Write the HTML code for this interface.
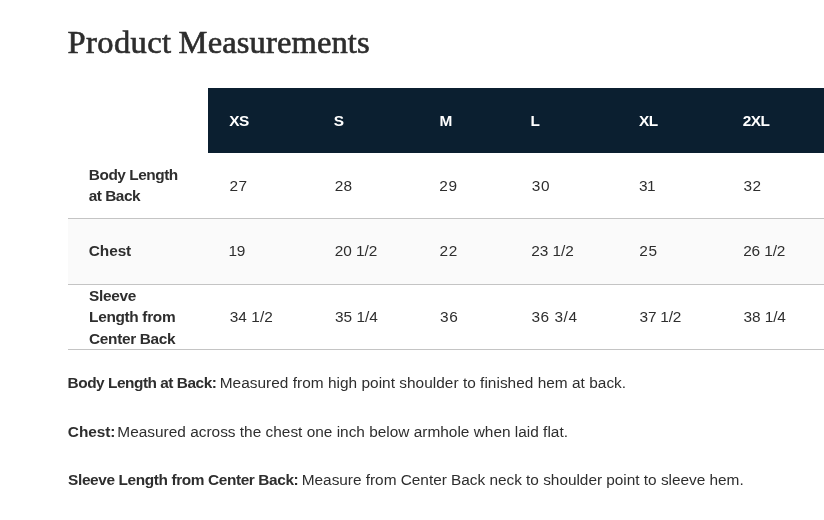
<!DOCTYPE html>
<html lang="en">
<head>
<meta charset="utf-8">
<title>Product Measurements</title>
<style>
  html, body { margin: 0; padding: 0; background: #ffffff; }
  body {
    width: 824px; height: 520px; overflow: hidden; position: relative; display: flow-root;
    font-family: "Liberation Sans", Arial, sans-serif;
    font-size: 15.4px; line-height: 21px; color: #2e2e2e;
  }
  h2 {
    position: absolute; left: 67.6px; top: 22px; margin: 0;
    font-family: "Liberation Serif", "DejaVu Serif", serif;
    font-weight: 400; font-size: 32.5px; line-height: 40px; letter-spacing: 0.14px;
    color: #2d2d2d; -webkit-text-stroke: 0.65px #2d2d2d; white-space: nowrap; word-spacing: -1px;
  }
  h2 .w1 { letter-spacing: 0.38px; }
  table {
    margin: 88px 0 0 68px; width: 860px;
    border-collapse: collapse; table-layout: fixed;
  }
  th, td { padding: 0; text-align: left; font-weight: 400; }
  thead th { height: 65px; background: #0b1f30; color: #ffffff; }
  thead th.blank { background: transparent; }
  tbody tr { border-bottom: 1px solid #c4c4c4; }
  tbody td, tbody th { height: 65px; }
  tbody tr.r3 td, tbody tr.r3 th { height: 64px; }
  tbody tr.alt { background: #fafafa; }
  /* text runs are pinned to measured positions */
  .t { position: absolute; white-space: nowrap; line-height: 21px; }
  .b { font-weight: 700; }
  .hd { top: 110px; }
  .r1 .v { top: 175px; }  .r1 .la { top: 164px; } .r1 .lb { top: 185px; }
  .r2 .v { top: 240px; }  .r2 .la { top: 240px; }
  .r3 .v { top: 306px; }  .r3 .la { top: 285px; } .r3 .lb { top: 306px; } .r3 .lc { top: 328px; }
  p { margin: 0; }
  .p1 .t { top: 372px; } .p2 .t { top: 421px; } .p3 .t { top: 469px; }
</style>
</head>
<body>
<h2><span class="w1">Product</span> Measurements</h2>

<table>
  <colgroup>
    <col style="width:140px"><col style="width:105px"><col style="width:105px">
    <col style="width:91px"><col style="width:109px"><col style="width:103px"><col>
  </colgroup>
  <thead>
    <tr>
      <th class="blank"></th>
      <th><span id="h0" class="t b hd" style="left:229.28px;letter-spacing:-0.60px">XS</span></th>
      <th><span id="h1" class="t b hd" style="left:333.83px;letter-spacing:0.00px">S</span></th>
      <th><span id="h2" class="t b hd" style="left:439.57px;letter-spacing:0.00px">M</span></th>
      <th><span id="h3" class="t b hd" style="left:530.40px;letter-spacing:0.00px">L</span></th>
      <th><span id="h4" class="t b hd" style="left:639.00px;letter-spacing:-0.60px">XL</span></th>
      <th><span id="h5" class="t b hd" style="left:742.77px;letter-spacing:-0.60px">2XL</span></th>
    </tr>
  </thead>
  <tbody>
    <tr class="r1">
      <th><span id="l1a" class="t b la" style="left:88.80px;letter-spacing:-0.46px">Body Length</span> <span id="l1b" class="t b lb" style="left:88.80px;letter-spacing:-0.51px">at Back</span></th>
      <td><span id="v10" class="t v" style="left:229.45px;letter-spacing:0.50px">27</span></td>
      <td><span id="v11" class="t v" style="left:334.65px;letter-spacing:0.25px">28</span></td>
      <td><span id="v12" class="t v" style="left:439.27px;letter-spacing:0.70px">29</span></td>
      <td><span id="v13" class="t v" style="left:531.70px;letter-spacing:0.70px">30</span></td>
      <td><span id="v14" class="t v" style="left:639.00px;letter-spacing:-0.60px">31</span></td>
      <td><span id="v15" class="t v" style="left:743.40px;letter-spacing:0.65px">32</span></td>
    </tr>
    <tr class="r2 alt">
      <th><span id="l2a" class="t b la" style="left:88.85px;letter-spacing:-0.09px">Chest</span></th>
      <td><span id="v20" class="t v" style="left:228.55px;letter-spacing:-0.30px">19</span></td>
      <td><span id="v21" class="t v" style="left:334.65px;letter-spacing:-0.03px">20 1/2</span></td>
      <td><span id="v22" class="t v" style="left:439.55px;letter-spacing:0.70px">22</span></td>
      <td><span id="v23" class="t v" style="left:531.25px;letter-spacing:-0.03px">23 1/2</span></td>
      <td><span id="v24" class="t v" style="left:639.35px;letter-spacing:0.65px">25</span></td>
      <td><span id="v25" class="t v" style="left:743.15px;letter-spacing:-0.11px">26 1/2</span></td>
    </tr>
    <tr class="r3">
      <th><span id="l3a" class="t b la" style="left:89.10px;letter-spacing:-0.31px">Sleeve</span> <span id="l3b" class="t b lb" style="left:89.10px;letter-spacing:-0.33px">Length from</span> <span id="l3c" class="t b lc" style="left:89.10px;letter-spacing:-0.34px">Center Back</span></th>
      <td><span id="v30" class="t v" style="left:229.70px;letter-spacing:0.08px">34 1/2</span></td>
      <td><span id="v31" class="t v" style="left:334.90px;letter-spacing:0.03px">35 1/4</span></td>
      <td><span id="v32" class="t v" style="left:439.95px;letter-spacing:0.70px">36</span></td>
      <td><span id="v33" class="t v" style="left:531.50px;letter-spacing:0.53px">36 3/4</span></td>
      <td><span id="v34" class="t v" style="left:639.60px;letter-spacing:-0.22px">37 1/2</span></td>
      <td><span id="v35" class="t v" style="left:743.40px;letter-spacing:-0.05px">38 1/4</span></td>
    </tr>
  </tbody>
</table>

<p class="p1"><b id="p1b" class="t b" style="left:67.60px;letter-spacing:-0.47px">Body Length at Back:</b> <span id="p1r" class="t" style="left:219.75px;letter-spacing:0.03px">Measured from high point shoulder to finished hem at back.</span></p>
<p class="p2"><b id="p2b" class="t b" style="left:67.85px;letter-spacing:-0.07px">Chest:</b> <span id="p2r" class="t" style="left:117.35px;letter-spacing:0.01px">Measured across the chest one inch below armhole when laid flat.</span></p>
<p class="p3"><b id="p3b" class="t b" style="left:68.10px;letter-spacing:-0.38px">Sleeve Length from Center Back:</b> <span id="p3r" class="t" style="left:301.75px;letter-spacing:-0.02px">Measure from Center Back neck to shoulder point to sleeve hem.</span></p>
</body>
</html>
